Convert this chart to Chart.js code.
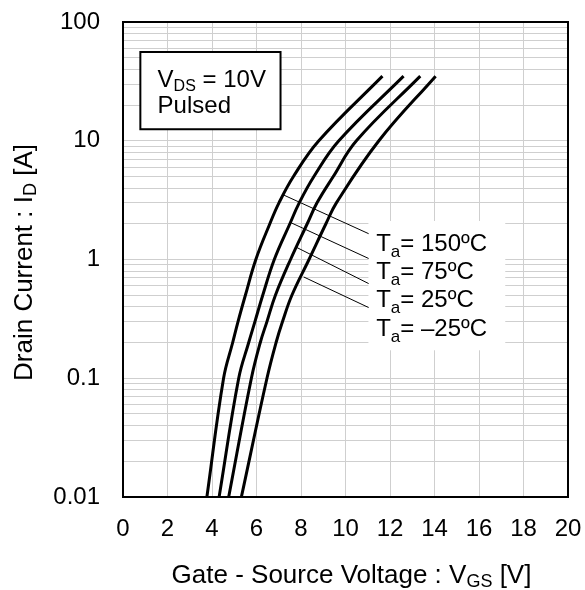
<!DOCTYPE html>
<html>
<head>
<meta charset="utf-8">
<script src="https://cdn.jsdelivr.net/npm/chart.js@4.4.1/dist/chart.umd.min.js"></script>
<style>
  html, body { margin: 0; padding: 0; background: #fff; }
</style>
</head>
<body>
<canvas id="idChart" width="585" height="590"></canvas>
<script>
const FONT = 'Arial, "Liberation Sans", sans-serif';

// series names (ambient temperature)
const tempLabels = ["150ºC", "75ºC", "25ºC", "–25ºC"];

// gate-source voltage [V] and drain current [A]
const vgs150 = [3.77, 4.52, 4.93, 5.17, 5.50, 5.97, 6.60, 7.01, 7.66, 8.80, 11.66];
const id150  = [0.01, 0.1, 0.2, 0.3, 0.5, 1, 2, 3, 5, 10, 35];
const vgs75  = [4.32, 5.20, 5.65, 5.93, 6.28, 6.80, 7.50, 7.92, 8.58, 9.70, 12.61];
const id75   = [0.01, 0.1, 0.2, 0.3, 0.5, 1, 2, 3, 5, 10, 35];
const vgs25  = [4.75, 5.77, 6.17, 6.47, 6.85, 7.53, 8.28, 8.72, 9.45, 10.49, 13.36];
const id25   = [0.01, 0.1, 0.2, 0.3, 0.5, 1, 2, 3, 5, 10, 35];
const vgsM25 = [5.32, 6.47, 6.88, 7.17, 7.59, 8.36, 9.12, 9.59, 11.50, 14.05];
const idM25  = [0.01, 0.1, 0.2, 0.3, 0.5, 1, 2, 3, 10, 35];

// axes
const xTicks = [0, 2, 4, 6, 8, 10, 12, 14, 16, 18, 20];
const yDecades = [0.01, 0.1, 1, 10];
const yMultipliers = [1, 2, 3, 4, 5, 6, 7, 8, 9];
const yTickLabels = [0.01, 0.1, 1, 10, 100];

const yGrid = [];
yDecades.forEach(d => yMultipliers.forEach(m => yGrid.push(+(d * m).toPrecision(3))));
yGrid.push(100);

const curves = [
  [vgs150, id150],
  [vgs75, id75],
  [vgs25, id25],
  [vgsM25, idM25]
];

// draw text made of [text, isSubscript] pieces, returns width
function richText(ctx, parts, x, yBase, size, subSize, drop, measureOnly) {
  let cx = x;
  parts.forEach(([txt, sub]) => {
    ctx.font = (sub ? subSize : size) + "px " + FONT;
    if (!measureOnly) ctx.fillText(txt, cx, sub ? yBase + drop : yBase);
    cx += ctx.measureText(txt).width;
  });
  return cx - x;
}

const decorations = {
  id: "decorations",
  beforeDatasetsDraw(chart) {
    const { ctx, scales: { x, y } } = chart;
    ctx.save();
    ctx.fillStyle = "#fff";
    // white patch behind temperature labels
    const lx0 = x.getPixelForValue(11.03), lx1 = x.getPixelForValue(17.18);
    const ly0 = y.getPixelForValue(2.11), ly1 = y.getPixelForValue(0.172);
    ctx.fillRect(lx0, ly0, lx1 - lx0, ly1 - ly0);
    // conditions box
    const bx0 = x.getPixelForValue(0.78), bx1 = x.getPixelForValue(7.08);
    const by0 = y.getPixelForValue(55.9), by1 = y.getPixelForValue(12.5);
    ctx.fillRect(bx0, by0, bx1 - bx0, by1 - by0);
    ctx.strokeStyle = "#000";
    ctx.lineWidth = 2;
    ctx.strokeRect(bx0, by0, bx1 - bx0, by1 - by0);
    ctx.restore();
  },
  afterDraw(chart) {
    const { ctx, chartArea: a, scales: { x, y } } = chart;
    ctx.save();

    // frame
    ctx.strokeStyle = "#000";
    ctx.lineWidth = 2;
    ctx.strokeRect(a.left, a.top, a.right - a.left, a.bottom - a.top);

    // leader lines from curves to labels
    const leaders = [
      [7.15, 3.54, 11.04, 1.65],
      [7.55, 2.04, 11.04, 1.02],
      [7.82, 1.26, 11.04, 0.627],
      [8.12, 0.713, 11.04, 0.394]
    ];
    ctx.lineWidth = 1;
    leaders.forEach(([v0, i0, v1, i1]) => {
      ctx.beginPath();
      ctx.moveTo(x.getPixelForValue(v0), y.getPixelForValue(i0));
      ctx.lineTo(x.getPixelForValue(v1), y.getPixelForValue(i1));
      ctx.stroke();
    });

    ctx.fillStyle = "#000";
    ctx.textBaseline = "alphabetic";
    ctx.textAlign = "left";

    // temperature labels
    const baseI = [1.18, 0.684, 0.396, 0.229];
    tempLabels.forEach((t, i) => {
      richText(ctx, [["T", false], ["a", true], ["= " + t, false]],
        x.getPixelForValue(11.38), y.getPixelForValue(baseI[i]), 24, 17, 6);
    });

    // conditions text
    richText(ctx, [["V", false], ["DS", true], [" = 10V", false]],
      x.getPixelForValue(1.555), y.getPixelForValue(28.5), 24, 16, 4);
    richText(ctx, [["Pulsed", false]],
      x.getPixelForValue(1.555), y.getPixelForValue(17.1), 24, 16, 4);

    // x axis title
    const xParts = [["Gate - Source Voltage : V", false], ["GS", true], [" [V]", false]];
    const xw = richText(ctx, xParts, 0, 0, 26, 18, 4, true);
    richText(ctx, xParts, (a.left + a.right) / 2 - xw / 2 + 6, 583, 26, 18, 4);

    // y axis title
    const yParts = [["Drain Current : I", false], ["D", true], [" [A]", false]];
    const yw = richText(ctx, yParts, 0, 0, 26, 18, 4, true);
    ctx.translate(32, (a.top + a.bottom) / 2 + 3);
    ctx.rotate(-Math.PI / 2);
    richText(ctx, yParts, -yw / 2, 0, 26, 18, 4);

    ctx.restore();
  }
};

new Chart(document.getElementById("idChart"), {
  type: "line",
  data: {
    datasets: curves.map(([vs, is], k) => ({
      label: "Ta= " + tempLabels[k],
      data: vs.map((v, j) => ({ x: v, y: is[j] })),
      borderColor: "#000",
      borderWidth: 3,
      pointRadius: 0,
      fill: false,
      tension: 0.4
    }))
  },
  options: {
    responsive: false,
    animation: false,
    devicePixelRatio: 1,
    layout: { autoPadding: false, padding: { top: 22, right: 17, left: 0, bottom: 0 } },
    plugins: { legend: { display: false }, tooltip: { enabled: false } },
    scales: {
      x: {
        type: "linear",
        min: 0,
        max: 20,
        afterBuildTicks: s => { s.ticks = xTicks.map(v => ({ value: v })); },
        afterFit: s => {
          s.height = 93;
          s.paddingLeft = 0;
          s.paddingRight = 0;
        },
        grid: { color: "#cfcfcf", lineWidth: 1, drawTicks: false },
        border: { display: false },
        ticks: { color: "#000", font: { family: FONT, size: 24 }, padding: 18, maxRotation: 0 }
      },
      y: {
        type: "logarithmic",
        min: 0.01,
        max: 100,
        afterBuildTicks: s => { s.ticks = yGrid.map(v => ({ value: v })); },
        afterFit: s => {
          s.width = 123;
          s.paddingTop = 0;
          s.paddingBottom = 0;
        },
        grid: { color: "#cfcfcf", lineWidth: 1, drawTicks: false },
        border: { display: false },
        ticks: {
          color: "#000",
          font: { family: FONT, size: 24 },
          padding: 23,
          autoSkip: false,
          callback: v => (yTickLabels.includes(v) ? String(v) : "")
        }
      }
    }
  },
  plugins: [decorations]
});
</script>
</body>
</html>
